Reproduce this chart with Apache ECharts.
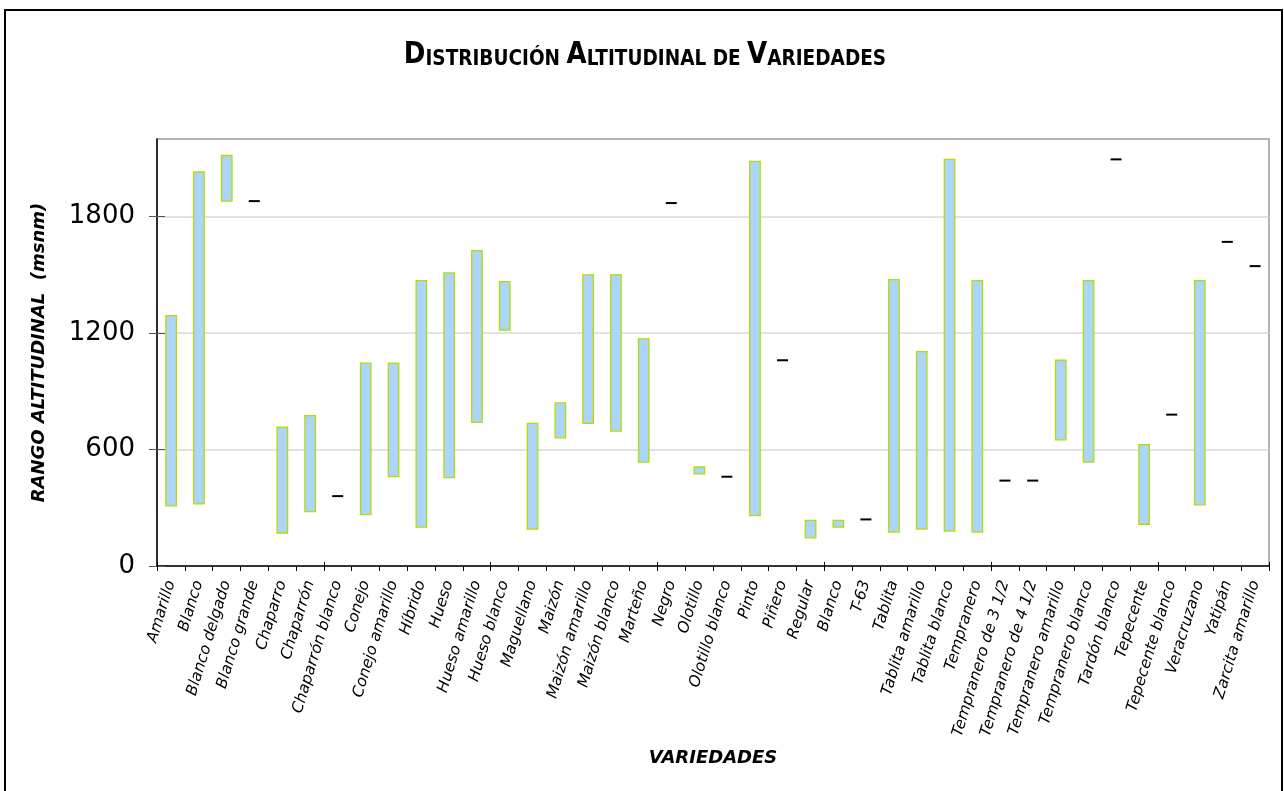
<!DOCTYPE html>
<html>
<head>
<meta charset="utf-8">
<script src="https://cdn.jsdelivr.net/npm/echarts@6/dist/echarts.min.js"></script>
<style>
html,body{margin:0;padding:0;background:#fff;}
#main{width:1284px;height:791px;}
</style>
</head>
<body>
<div id="main"></div>
<script>
// variedades (eje X)
var variedades = ['Amarillo','Blanco','Blanco delgado','Blanco grande','Chaparro','Chaparrón','Chaparrón blanco',
  'Conejo','Conejo amarillo','Híbrido','Hueso','Hueso amarillo','Hueso blanco','Maguellano','Maizón',
  'Maizón amarillo','Maizón blanco','Marteño','Negro','Olotillo','Olotillo blanco','Pinto','Piñero','Regular',
  'Blanco','T-63','Tablita','Tablita amarillo','Tablita blanco','Tempranero','Tempranero de 3 1/2',
  'Tempranero de 4 1/2','Tempranero amarillo','Tempranero blanco','Tardón blanco','Tepecente',
  'Tepecente blanco','Veracruzano','Yatipán','Zarcita amarillo'];

// altitud minima y maxima (msnm)
var altMin = [310,320,1880,1880,170,280,360,265,460,200,455,740,1215,190,660,735,695,535,1870,475,460,260,1060,145,
  200,240,175,190,180,175,440,440,650,535,2095,215,780,315,1670,1545];
var altMax = [1290,2030,2115,1880,715,775,360,1045,1045,1470,1510,1625,1465,735,840,1500,1500,1170,1870,510,460,2085,1060,235,
  235,240,1475,1105,2095,1470,440,440,1060,1470,2095,625,780,1470,1670,1545];

var yTicks = [0,600,1200,1800];

var rangos = [];
for (var i = 0; i < variedades.length; i++) {
  rangos.push([i, altMin[i], altMax[i]]);
}

var chart = echarts.init(document.getElementById('main'));

function renderRango(params, api){
  var idx = api.value(0), lo = api.value(1), hi = api.value(2);
  var pLo = api.coord([idx, lo]);
  var pHi = api.coord([idx, hi]);
  if (lo === hi) {
    // un solo valor: raya negra
    return {type:'line', shape:{x1:pLo[0]-5.5, y1:pLo[1], x2:pLo[0]+5.5, y2:pLo[1]},
      style:{stroke:'#000', lineWidth:2}};
  }
  return {type:'rect', shape:{x:pLo[0]-5, y:pHi[1], width:10.5, height:pLo[1]-pHi[1]},
    style:{fill:'#abd5fb', stroke:'#b5dc00', lineWidth:1.3}};
}

var option = {
  animation:false,
  backgroundColor:'#fff',
  graphic:[{
    type:'rect', shape:{x:5, y:10, width:1277, height:800},
    style:{fill:null, stroke:'#000', lineWidth:2}, silent:true, z:100
  },{
    // titulo en versalitas, un poco estrecho
    type:'text', x:645, y:55, scaleX:0.84, silent:true, z:100,
    style:{
      text:'{b|D}{s|ISTRIBUCIÓN }{b|A}{s|LTITUDINAL DE }{b|V}{s|ARIEDADES}',
      align:'center', verticalAlign:'middle',
      rich:{
        b:{fontFamily:'DejaVu Sans', fontWeight:'bold', fontSize:31, fill:'#000', verticalAlign:'bottom', lineHeight:31},
        s:{fontFamily:'DejaVu Sans', fontWeight:'bold', fontSize:22, fill:'#000', verticalAlign:'bottom', lineHeight:29}
      }
    }
  }],
  grid:{left:157, right:15, top:139, bottom:225, show:true, borderColor:'#9a9a9a', borderWidth:1.5, backgroundColor:'transparent'},
  xAxis:[{
    type:'category', data:variedades,
    axisLine:{lineStyle:{color:'#000', width:1.5}},
    axisTick:{show:true, length:5, alignWithLabel:false, lineStyle:{color:'#000'}},
    axisLabel:{interval:0, rotate:73, margin:15, fontFamily:'DejaVu Sans', fontStyle:'italic', fontSize:15.5, color:'#000'},
    name:'VARIEDADES', nameLocation:'middle', nameGap:183,
    nameTextStyle:{fontFamily:'DejaVu Sans', fontStyle:'italic', fontWeight:'bold', fontSize:18, color:'#000'}
  },{
    type:'category', data:variedades, position:'bottom',
    axisLine:{show:false}, axisLabel:{show:false},
    axisTick:{show:true, inside:true, length:4, lineStyle:{color:'#000'}}
  }],
  yAxis:[{
    type:'value', min:0, max:2200, interval:600,
    axisLine:{show:true, lineStyle:{color:'#000', width:1.5}},
    axisTick:{show:true, length:8, lineStyle:{color:'#555'}, customValues:yTicks},
    axisLabel:{fontFamily:'DejaVu Sans', fontSize:26, color:'#000', margin:22, customValues:yTicks,
      formatter:function(v){ return String(v); }},
    splitLine:{show:true, lineStyle:{color:'#d9d9d9', width:1.5}},
    name:'RANGO ALTITUDINAL  (msnm)', nameLocation:'middle', nameGap:109,
    nameTextStyle:{fontFamily:'DejaVu Sans', fontStyle:'italic', fontWeight:'bold', fontSize:18, color:'#000'}
  },{
    type:'value', min:0, max:2200, interval:600, position:'left',
    axisLine:{show:false}, axisLabel:{show:false}, splitLine:{show:false},
    axisTick:{show:true, inside:true, length:8, lineStyle:{color:'#555'}, customValues:yTicks}
  }],
  series:[{
    type:'custom',
    renderItem:renderRango,
    encode:{x:0, y:[1,2]},
    data:rangos
  }]
};

chart.setOption(option);
window.addEventListener('resize',function(){ chart.resize(); });
</script>
</body>
</html>
